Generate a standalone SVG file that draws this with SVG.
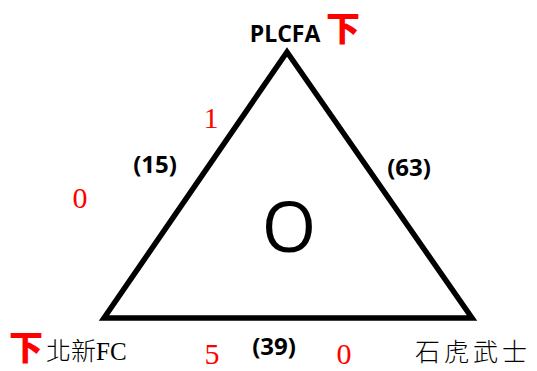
<svg xmlns="http://www.w3.org/2000/svg" width="537" height="371" viewBox="0 0 537 371">
<style>
.lbl{font-family:"Open Sans","Noto Sans",sans-serif;font-weight:700;font-size:24px;fill:#000;text-anchor:middle}
.red{font-family:"Liberation Serif",serif;font-size:30px;fill:#ff0000;text-anchor:middle}
.mark{font-family:"Noto Sans CJK SC",sans-serif;font-weight:900;font-size:34px;fill:#ff0000;text-anchor:middle}
.name{font-family:"Liberation Serif","Noto Sans CJK TC",serif;font-size:25px;fill:#000}
</style>
<rect width="537" height="371" fill="#fff"/>
<g id="connectors">
<polygon points="287,52 104,318 472,318" fill="none" stroke="#000" stroke-width="5.5" stroke-linejoin="miter"/>
</g>
<g id="center">
<text x="289" y="252" style="font-family:'Open Sans','Noto Sans',sans-serif;font-size:70px;text-anchor:middle">O</text>
</g>
<g id="node-top">
<text x="285" y="42" class="lbl" style="font-size:23px">PLCFA</text>
<text x="343" y="41" class="mark">下</text>
</g>
<g id="node-left">
<text x="26" y="360" class="mark">下</text>
<text x="46" y="360" class="name" style="font-weight:300">北新FC</text>
</g>
<g id="node-right">
<text x="415" y="361" class="name" style="font-weight:300;letter-spacing:4px">石虎武士</text>
</g>
<g id="labels">
<text x="155" y="173" class="lbl">(15)</text>
<text x="409" y="176" class="lbl">(63)</text>
<text x="274" y="355" class="lbl">(39)</text>
<text x="211" y="128" class="red">1</text>
<text x="80" y="208" class="red">0</text>
<text x="212" y="364" class="red">5</text>
<text x="344" y="364" class="red">0</text>
</g>
</svg>
